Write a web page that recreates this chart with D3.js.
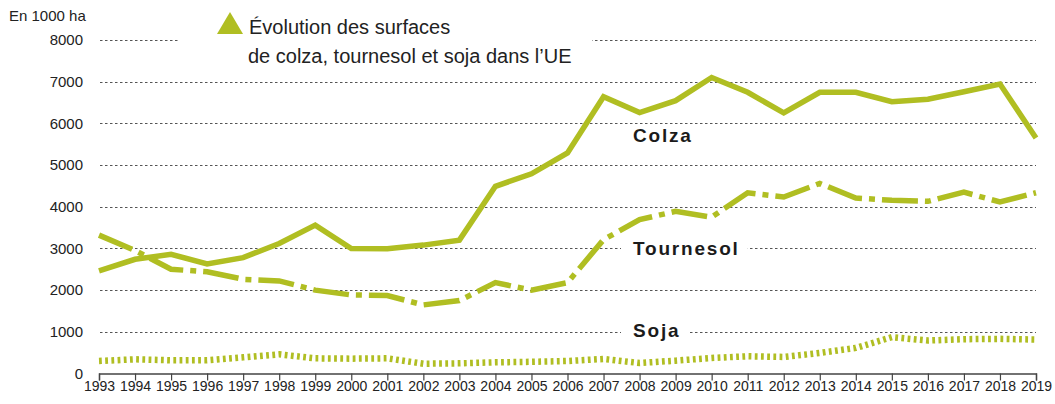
<!DOCTYPE html>
<html>
<head>
<meta charset="utf-8">
<script src="https://cdn.jsdelivr.net/npm/d3@7"></script>
<style>
  body { margin:0; background:#fff; }
  svg { display:block; font-family:"Liberation Sans", Arial, sans-serif; }
</style>
</head>
<body>
<svg id="chart" width="1055" height="404"></svg>
<script>
// years on the x axis
var years = d3.range(1993, 2020);
// surfaces, in 1000 ha
var colza = [2460, 2740, 2860, 2630, 2780, 3120, 3560, 3000, 2990, 3080, 3200, 4490, 4790, 5290,
             6640, 6260, 6545, 7100, 6745, 6250, 6745, 6745, 6520, 6580, 6760, 6945, 5650];
var tournesol = [3320, 2950, 2500, 2440, 2260, 2220, 2000, 1885, 1870, 1645, 1750, 2180, 2000, 2180,
                 3210, 3690, 3890, 3750, 4335, 4235, 4560, 4210, 4155, 4130, 4350, 4115, 4335];
var soja = [300, 340, 316, 320, 388, 460, 364, 356, 364, 235, 244, 268, 280, 300,
            348, 252, 308, 372, 413, 397, 493, 614, 871, 791, 823, 831, 815];
var yTicks = [0, 1000, 2000, 3000, 4000, 5000, 6000, 7000, 8000];
var seriesNames = ["Colza", "Tournesol", "Soja"];

var green = "#b0be22", ink = "#222";

var svg = d3.select("#chart");
var x = d3.scaleLinear().domain([1993, 2019]).range([99, 1036]);
var y = d3.scaleLinear().domain([0, 8000]).range([373.5, 40]);

// gridlines
svg.append("g").attr("class","grid")
   .selectAll("line").data(yTicks.filter(function(d){ return d > 0; }))
   .enter().append("line")
   .attr("x1", 100).attr("x2", 1036)
   .attr("y1", function(d){ return Math.round(y(d)) + 0.5; })
   .attr("y2", function(d){ return Math.round(y(d)) + 0.5; })
   .attr("stroke", "#555").attr("stroke-width", 1)
   .attr("stroke-dasharray", "2.5,2.5");

// y labels
var ya = svg.append("g").attr("transform", "translate(83,0)")
   .call(d3.axisLeft(y).tickValues(yTicks).tickSize(0).tickPadding(0).tickFormat(d3.format("d")));
ya.select(".domain").remove();
ya.selectAll("text").attr("font-size", 15).attr("fill", ink)
  .attr("font-family", "Liberation Sans, Arial, sans-serif");

svg.append("text").attr("x", 9).attr("y", 21).attr("font-size", 15).attr("fill", ink)
   .text("En 1000 ha");

// x axis
var xa = svg.append("g").attr("transform", "translate(0," + y(0) + ")")
   .call(d3.axisBottom(x).tickValues(years).tickSize(7).tickFormat(d3.format("d")));
xa.select(".domain").attr("stroke", "#444").attr("stroke-width", 1.4);
xa.selectAll(".tick line").attr("stroke", "#444").attr("stroke-width", 1.2);
xa.selectAll("text").attr("font-size", 14).attr("fill", ink).attr("dy", "0.55em")
  .attr("font-family", "Liberation Sans Narrow, Arial Narrow, Liberation Sans, sans-serif");

// title block (white backing breaks the 8000 gridline)
svg.append("rect").attr("x", 178).attr("y", 4).attr("width", 414).attr("height", 70).attr("fill", "#fff");
svg.append("path").attr("d", "M217,34L243,34L230,12Z").attr("fill", green);
svg.append("text").attr("x", 249).attr("y", 34).attr("font-size", 20).attr("fill", ink)
   .text("Évolution des surfaces");
svg.append("text").attr("x", 248).attr("y", 63).attr("font-size", 20).attr("fill", ink)
   .text("de colza, tournesol et soja dans l\u2019UE");

// series labels
var labels = [
  {name: seriesNames[0], x: 633, y: 142},
  {name: seriesNames[1], x: 633, y: 255},
  {name: seriesNames[2], x: 633, y: 337}
];
var lab = svg.append("g").selectAll("g").data(labels).enter().append("g");
lab.append("text")
   .attr("x", function(d){ return d.x; }).attr("y", function(d){ return d.y; })
   .attr("font-size", 19).attr("font-weight", "bold").attr("letter-spacing", 1.8)
   .attr("fill", "#1b1b1b")
   .text(function(d){ return d.name; })
   .each(function(d){ d.box = this.getBBox(); });
lab.insert("rect", "text")
   .attr("x", function(d){ return d.box.x - 12; })
   .attr("y", function(d){ return d.box.y; })
   .attr("width", function(d){ return d.box.width + 20; })
   .attr("height", function(d){ return d.box.height; })
   .attr("fill", "#fff");

// lines
var line = d3.line().x(function(d, i){ return x(years[i]); }).y(function(d){ return y(d); });
var styles = [
  {data: colza, dash: null, w: 5.5},
  {data: tournesol, dash: "36,7,6,7", w: 5.5},
  {data: soja, dash: "2.8,3.4", w: 6.5}
];
svg.append("g").selectAll("path").data(styles).enter().append("path")
   .attr("d", function(d){ return line(d.data); })
   .attr("fill", "none").attr("stroke", green)
   .attr("stroke-width", function(d){ return d.w; })
   .attr("stroke-dasharray", function(d){ return d.dash; })
   .attr("stroke-linejoin", "miter");
</script>
</body>
</html>
